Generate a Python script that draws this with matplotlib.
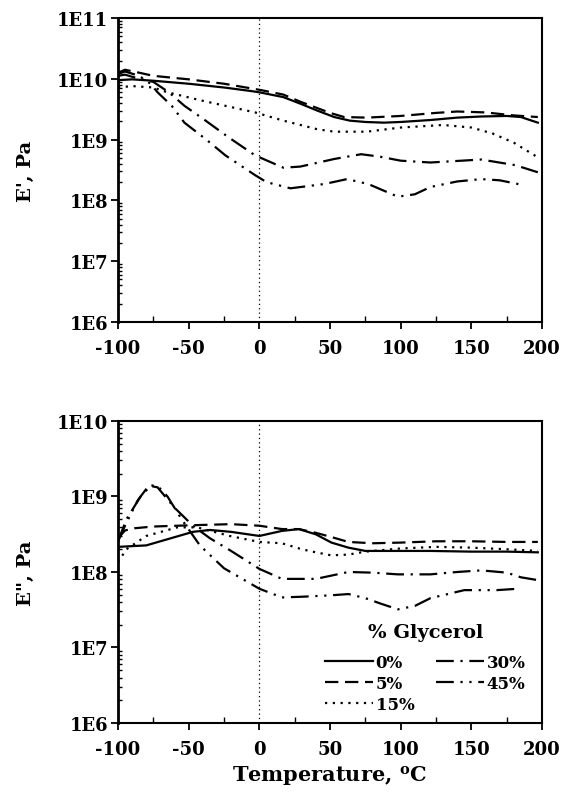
import numpy as np
import matplotlib
matplotlib.use("Agg")
import matplotlib.pyplot as plt
from matplotlib.ticker import LogLocator, FixedLocator, NullFormatter, MultipleLocator

plt.rcParams['font.family'] = ['DejaVu Serif']
plt.rcParams['font.weight'] = 'bold'
plt.rcParams['mathtext.fontset'] = 'dejavuserif'
plt.rcParams['axes.unicode_minus'] = False

# ---- E' (storage modulus), Pa ----
t_s0 = [-100, -90, -75, -50, -25, -6, 0, 17, 29, 41, 53, 64, 75, 88, 100, 121, 140, 157, 175, 185, 197]
e_s0 = [9.5e9, 9.8e9, 9.3e9, 8.3e9, 7.2e9, 6.3e9, 6.0e9, 5.0e9, 3.9e9, 3.0e9, 2.35e9, 2.05e9, 1.95e9,
        1.9e9, 1.95e9, 2.1e9, 2.3e9, 2.4e9, 2.45e9, 2.35e9, 1.9e9]
t_s5 = [-100, -95, -85, -75, -50, -25, 0, 17, 29, 41, 50, 60, 76, 100, 125, 140, 160, 180, 197]
e_s5 = [1.26e10, 1.41e10, 1.26e10, 1.12e10, 9.8e9, 8.3e9, 6.6e9, 5.5e9, 4.2e9, 3.3e9, 2.75e9, 2.35e9,
        2.3e9, 2.45e9, 2.75e9, 2.9e9, 2.8e9, 2.5e9, 2.35e9]
t_s15 = [-100, -90, -75, -65, -41, -3, 17, 41, 53, 76, 100, 130, 150, 165, 180, 197]
e_s15 = [7.2e9, 7.6e9, 7.2e9, 6.0e9, 4.4e9, 2.8e9, 2.05e9, 1.48e9, 1.35e9, 1.35e9, 1.58e9, 1.74e9,
         1.58e9, 1.26e9, 8.9e8, 5.1e8]
t_s30 = [-100, -95, -85, -75, -64, -53, -38, -22, -3, 17, 29, 53, 72, 85, 100, 121, 157, 181, 197]
e_s30 = [1.12e10, 1.17e10, 1.0e10, 8.9e9, 6.0e9, 3.6e9, 2.05e9, 1.1e9, 5.5e8, 3.45e8, 3.6e8, 4.8e8,
         5.75e8, 5.25e8, 4.5e8, 4.2e8, 4.7e8, 3.8e8, 2.9e8]
t_s45 = [-100, -95, -85, -77, -72, -62, -53, -38, -24, -3, 5, 22, 46, 62, 77, 98, 110, 121, 140, 157,
         170, 185]
e_s45 = [1.2e10, 1.32e10, 1.12e10, 8.3e9, 6.0e9, 3.6e9, 1.9e9, 1.02e9, 5.5e8, 2.6e8, 2.0e8, 1.58e8,
         1.86e8, 2.24e8, 1.86e8, 1.15e8, 1.26e8, 1.66e8, 2.05e8, 2.24e8, 2.14e8, 1.82e8]

# ---- E" (loss modulus), Pa ----
t_l0 = [-100, -90, -80, -70, -47, -35, -20, 0, 16, 28, 40, 51, 63, 75, 100, 121, 150, 175, 197]
e_l0 = [2.15e8, 2.2e8, 2.25e8, 2.55e8, 3.4e8, 3.6e8, 3.4e8, 3.0e8, 3.5e8, 3.7e8, 3.15e8, 2.45e8,
        2.1e8, 1.9e8, 1.9e8, 1.9e8, 1.86e8, 1.86e8, 1.82e8]
t_l5 = [-100, -95, -88, -75, -58, -40, -20, 0, 16, 28, 40, 51, 63, 80, 100, 125, 150, 175, 197]
e_l5 = [2.8e8, 3.55e8, 3.8e8, 4.0e8, 4.1e8, 4.2e8, 4.3e8, 4.1e8, 3.7e8, 3.7e8, 3.3e8, 2.9e8, 2.5e8,
        2.4e8, 2.45e8, 2.55e8, 2.55e8, 2.5e8, 2.5e8]
t_l15 = [-100, -94, -80, -58, -44, -21, 0, 16, 30, 40, 51, 63, 75, 100, 125, 150, 175, 197]
e_l15 = [1.35e8, 2.0e8, 3.0e8, 3.9e8, 3.9e8, 3.0e8, 2.5e8, 2.4e8, 2.0e8, 1.82e8, 1.66e8, 1.7e8,
         1.86e8, 2.05e8, 2.15e8, 2.1e8, 2.0e8, 1.9e8]
t_l30 = [-100, -94, -84, -77, -72, -60, -47, -35, -20, 0, 16, 40, 63, 80, 98, 121, 140, 157, 175, 185, 197]
e_l30 = [2.55e8, 5.0e8, 1.0e9, 1.38e9, 1.32e9, 7.1e8, 4.1e8, 2.8e8, 1.9e8, 1.1e8, 8.1e7, 8.1e7,
         1.0e8, 9.8e7, 9.3e7, 9.3e7, 1.0e8, 1.05e8, 9.8e7, 8.5e7, 7.8e7]
t_l45 = [-100, -94, -86, -78, -72, -65, -55, -42, -25, 0, 16, 30, 50, 63, 75, 86, 98, 110, 121, 145, 168, 183]
e_l45 = [2.55e8, 4.5e8, 8.9e8, 1.41e9, 1.38e9, 1.0e9, 5.0e8, 2.24e8, 1.12e8, 6.0e7, 4.6e7, 4.7e7,
         4.9e7, 5.1e7, 4.5e7, 3.8e7, 3.2e7, 3.55e7, 4.5e7, 5.75e7, 5.75e7, 6.0e7]

labels = ['0%', '5%', '15%', '30%', '45%']
styles = ['-', (0, (6, 3)), (0, (1, 2.5)), (0, (8, 3, 1, 3)), (0, (8, 3, 1, 3, 1, 3))]
x_ticks = [-100, -50, 0, 50, 100, 150, 200]

top_series = [(t_s0, e_s0), (t_s5, e_s5), (t_s15, e_s15), (t_s30, e_s30), (t_s45, e_s45)]
bot_series = [(t_l0, e_l0), (t_l5, e_l5), (t_l15, e_l15), (t_l30, e_l30), (t_l45, e_l45)]

fig = plt.figure(figsize=(5.61, 8.03), dpi=100)
ax1 = fig.add_axes([0.2103, 0.5978, 0.756, 0.3785])
ax2 = fig.add_axes([0.2103, 0.0984, 0.756, 0.3761])


def style_axis(ax, ymin, ymax, ylabel):
    ax.set_yscale('log')
    ax.set_xlim(-100, 200)
    ax.set_ylim(ymin, ymax)
    decades = [10.0 ** k for k in range(int(np.log10(ymin)), int(np.log10(ymax)) + 1)]
    ax.yaxis.set_major_locator(FixedLocator(decades))
    ax.set_yticklabels(['1E%d' % int(round(np.log10(d))) for d in decades])
    ax.yaxis.set_minor_locator(LogLocator(base=10, subs=np.arange(2, 10)))
    ax.yaxis.set_minor_formatter(NullFormatter())
    ax.set_xticks(x_ticks)
    ax.set_xticklabels([str(v) for v in x_ticks])
    ax.xaxis.set_minor_locator(MultipleLocator(25))
    ax.tick_params(axis='both', which='major', direction='out', length=5, width=1.3,
                   labelsize=13)
    ax.tick_params(axis='x', which='major', pad=7)
    ax.tick_params(axis='y', which='major', pad=2)
    ax.tick_params(axis='y', which='minor', direction='in', length=3, width=1.0)
    ax.tick_params(axis='x', which='minor', direction='in', length=4, width=1.0)
    for side in ['left', 'right', 'top', 'bottom']:
        ax.spines[side].set_linewidth(1.5)
    ax.spines['left'].set_linewidth(2.0)
    ax.axvline(0, color='black', lw=0.9, ls=(0, (1, 2.5)))
    ax.set_ylabel(ylabel, fontsize=14, fontweight='bold')
    ax.yaxis.set_label_coords(-0.195, 0.5)


for (t, e), lab, ls in zip(top_series, labels, styles):
    ax1.plot(t, e, color='black', lw=1.6, ls=ls, label=lab)
for (t, e), lab, ls in zip(bot_series, labels, styles):
    ax2.plot(t, e, color='black', lw=1.6, ls=ls, label=lab)

style_axis(ax1, 1e6, 1e11, "E', Pa")
style_axis(ax2, 1e6, 1e10, 'E", Pa')

leg = ax2.legend(ncol=2, loc='lower right', bbox_to_anchor=(0.985, 0.0), frameon=False,
                 title='% Glycerol', fontsize=12, handlelength=2.9, handletextpad=0.15,
                 columnspacing=1.3, labelspacing=0.25, borderaxespad=0.2)
leg.get_title().set_fontsize(14)
leg.get_title().set_fontweight('bold')
leg._legend_box.sep = 9

fig.text(0.588, 0.034, r'Temperature, $^{\mathbf{o}}$C', ha='center', va='center',
         fontsize=15, fontweight='bold')

fig.savefig('out.png', dpi=100)
